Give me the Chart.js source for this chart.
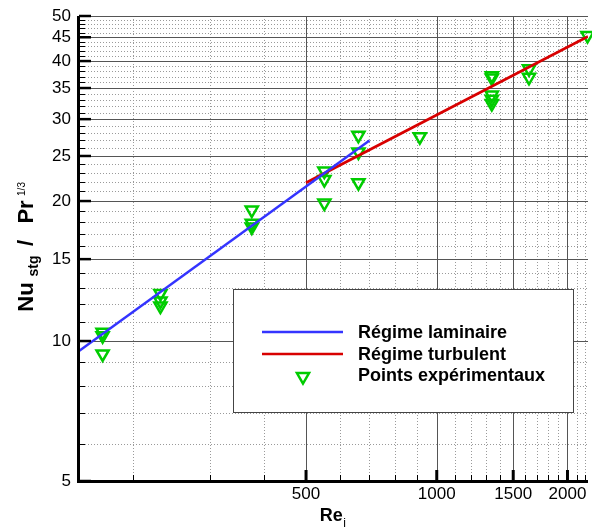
<!DOCTYPE html>
<html><head><meta charset="utf-8">
<script src="https://cdn.jsdelivr.net/npm/chart.js@4/dist/chart.umd.min.js"></script>
<style>html,body{margin:0;padding:0;background:#fff}#wrap{width:592px;height:528px}</style>
</head><body><div id="wrap"><canvas id="c" width="592" height="528"></canvas></div>
<script>
// ---- data ----
const legendLabels = ['Régime laminaire', 'Régime turbulent', 'Points expérimentaux'];
const laminarRe = [150, 700];
const laminarNu = [9.52, 27.0];
const turbulentRe = [500, 2230];
const turbulentNu = [21.9, 45.2];
const expRe = [170, 170, 170, 231, 231, 231, 375, 375, 375, 551, 551, 551, 660, 660, 660, 914, 1339, 1339, 1339, 1339, 1339, 1631, 1631, 2224];
const expNu = [10.44, 10.27, 9.38, 12.66, 12.19, 11.89, 19.13, 17.92, 17.59, 23.2, 22.25, 19.8, 27.7, 25.5, 21.9, 27.5, 37.2, 36.8, 33.8, 33.1, 32.4, 38.5, 36.9, 45.4];
const xTickLabels = [500, 1000, 1500, 2000];
const yTickLabels = [5, 10, 15, 20, 25, 30, 35, 40, 45, 50];
const xTickValues = []; for (let v = 200; v <= 2200; v += 100) xTickValues.push(v);
const yTickValues = []; for (let v = 5; v <= 50; v += 1) yTickValues.push(v);

const FONT = '"Liberation Sans", Arial, Helvetica, sans-serif';
const BLUE = '#3434ff', RED = '#d80000', GREEN = '#00cc00';
const TRI = {pointStyle: 'triangle', rotation: 180, radius: 7, borderWidth: 2.5};

const pts = (xs, ys) => xs.map((x, i) => ({x: x, y: ys[i]}));

const decor = {
  id: 'decor',
  beforeDatasetsDraw(chart) {
    const ctx = chart.ctx, ca = chart.chartArea, xs = chart.scales.x, ys = chart.scales.y;
    ctx.save();
    ctx.lineWidth = 1;
    ctx.strokeStyle = '#9a9a9a';
    ctx.setLineDash([1, 2]);
    ctx.beginPath();
    yTickValues.forEach(v => {
      if (yTickLabels.includes(v)) return;
      const y = Math.round(ys.getPixelForValue(v)) + 0.5;
      ctx.moveTo(ca.left, y); ctx.lineTo(ca.right, y);
    });
    xTickValues.forEach(v => {
      if (xTickLabels.includes(v)) return;
      const x = Math.round(xs.getPixelForValue(v)) + 0.5;
      ctx.moveTo(x, ca.top); ctx.lineTo(x, ca.bottom);
    });
    ctx.stroke();
    ctx.setLineDash([]);
    ctx.strokeStyle = '#555';
    ctx.beginPath();
    yTickLabels.forEach(v => {
      const y = Math.round(ys.getPixelForValue(v)) + 0.5;
      ctx.moveTo(ca.left, y); ctx.lineTo(ca.right, y);
    });
    xTickLabels.forEach(v => {
      const x = Math.round(xs.getPixelForValue(v)) + 0.5;
      ctx.moveTo(x, ca.top); ctx.lineTo(x, ca.bottom);
    });
    ctx.stroke();
    ctx.restore();
  },
  afterDatasetsDraw(chart) {
    const ctx = chart.ctx, ca = chart.chartArea, xs = chart.scales.x, ys = chart.scales.y;
    ctx.save();
    ctx.strokeStyle = '#000';
    yTickValues.forEach(v => {
      const major = yTickLabels.includes(v);
      const y = ys.getPixelForValue(v);
      ctx.lineWidth = major ? 2.5 : 1;
      const yy = major ? y : Math.round(y) + 0.5;
      ctx.beginPath(); ctx.moveTo(ca.left, yy); ctx.lineTo(ca.left + (major ? 12 : 6), yy); ctx.stroke();
    });
    xTickValues.forEach(v => {
      const major = xTickLabels.includes(v);
      const x = xs.getPixelForValue(v);
      ctx.lineWidth = major ? 3 : 1;
      const xx = major ? x : Math.round(x) + 0.5;
      ctx.beginPath(); ctx.moveTo(xx, ca.bottom); ctx.lineTo(xx, ca.bottom - (major ? 11 : 6)); ctx.stroke();
    });
    ctx.lineWidth = 3;
    ctx.beginPath();
    ctx.moveTo(ca.left - 0.5, ca.top); ctx.lineTo(ca.left - 0.5, ca.bottom + 1.5);
    ctx.moveTo(ca.left - 2, ca.bottom + 0.5); ctx.lineTo(ca.right, ca.bottom + 0.5);
    ctx.stroke();

    // legend box
    const lx = 233, ly = 289, lw = 341, lh = 124;
    ctx.fillStyle = '#fff';
    ctx.fillRect(lx, ly, lw, lh);
    ctx.lineWidth = 1; ctx.strokeStyle = '#444';
    ctx.strokeRect(lx + 0.5, ly + 0.5, lw - 1, lh - 1);
    const ds = chart.data.datasets;
    ctx.lineWidth = 2.5;
    ctx.strokeStyle = ds[0].borderColor;
    ctx.beginPath(); ctx.moveTo(262, 332); ctx.lineTo(343, 332); ctx.stroke();
    ctx.strokeStyle = ds[1].borderColor;
    ctx.beginPath(); ctx.moveTo(262, 354); ctx.lineTo(343, 354); ctx.stroke();
    ctx.strokeStyle = ds[2].borderColor;
    ctx.lineWidth = TRI.borderWidth;
    ctx.fillStyle = 'rgba(0,0,0,0)';
    Chart.helpers.drawPoint(ctx, TRI, 303, 376.5);
    ctx.fillStyle = '#000';
    ctx.font = 'bold 18px ' + FONT;
    ctx.textBaseline = 'alphabetic'; ctx.textAlign = 'left';
    ctx.fillText(ds[0].label, 358, 338);
    ctx.fillText(ds[1].label, 358, 360);
    ctx.fillText(ds[2].label, 358, 381);

    // x axis title: Re_i
    ctx.font = 'bold 18px ' + FONT;
    const wRe = ctx.measureText('Re').width;
    ctx.font = '12px ' + FONT;
    const wi = ctx.measureText('i').width;
    const cx = (ca.left + ca.right) / 2 - 1;
    const x0 = cx - (wRe + wi) / 2;
    ctx.font = 'bold 18px ' + FONT;
    ctx.fillText('Re', x0, 521);
    ctx.font = '12px ' + FONT;
    ctx.fillText('i', x0 + wRe + 0.5, 527);

    // y axis title: Nu_stg / Pr^1/3 (rotated)
    const parts = [
      {t: 'Nu', f: 'bold 22px ' + FONT, c: 297, b: 32.5},
      {t: 'stg', f: 'bold 14px ' + FONT, c: 266, b: 37.5},
      {t: '/', f: 'bold 22px ' + FONT, c: 243, b: 32.5},
      {t: 'Pr', f: 'bold 22px ' + FONT, c: 212, b: 32.5},
      {t: '1/3', f: '10px ' + FONT, c: 189, b: 25},
    ];
    parts.forEach(p => {
      ctx.save();
      ctx.translate(p.b, p.c);
      ctx.rotate(-Math.PI / 2);
      ctx.font = p.f;
      ctx.textAlign = 'center';
      ctx.textBaseline = 'alphabetic';
      ctx.fillText(p.t, 0, 0);
      ctx.restore();
    });
    ctx.restore();
  }
};

new Chart(document.getElementById('c'), {
  type: 'scatter',
  data: {
    datasets: [
      {label: legendLabels[0], data: pts(laminarRe, laminarNu), showLine: true, borderColor: BLUE, borderWidth: 2.5, pointRadius: 0, fill: false, order: 1},
      {label: legendLabels[1], data: pts(turbulentRe, turbulentNu), showLine: true, borderColor: RED, borderWidth: 2.8, pointRadius: 0, fill: false, order: 1},
      {label: legendLabels[2], data: pts(expRe, expNu), showLine: false, pointStyle: TRI.pointStyle, rotation: TRI.rotation,
       pointRadius: TRI.radius, borderWidth: TRI.borderWidth, borderColor: GREEN, backgroundColor: 'rgba(0,0,0,0)', clip: false, order: 2}
    ]
  },
  options: {
    responsive: false,
    animation: false,
    devicePixelRatio: 1,
    layout: {autoPadding: false, padding: {left: 0, top: 16, right: 4, bottom: 0}},
    plugins: {legend: {display: false}, tooltip: {enabled: false}, title: {display: false}},
    scales: {
      x: {
        type: 'logarithmic', min: 150, max: 2230,
        afterBuildTicks: s => { s.ticks = xTickValues.map(v => ({value: v})); },
        afterFit: s => { s.height = 47; s.paddingLeft = 0; s.paddingRight = 0; },
        grid: {display: false, drawTicks: false}, border: {display: false},
        ticks: {autoSkip: false, maxRotation: 0, minRotation: 0, padding: 3, color: '#000', font: {family: FONT, size: 17},
          callback: v => xTickLabels.includes(v) ? String(v) : ''}
      },
      y: {
        type: 'logarithmic', min: 5, max: 50,
        afterBuildTicks: s => { s.ticks = yTickValues.map(v => ({value: v})); },
        afterFit: s => { s.width = 79; s.paddingTop = 0; s.paddingBottom = 0; },
        grid: {display: false, drawTicks: false}, border: {display: false},
        ticks: {autoSkip: false, padding: 8, color: '#000', font: {family: FONT, size: 17},
          callback: v => yTickLabels.includes(v) ? String(v) : ''}
      }
    }
  },
  plugins: [decor]
});
</script>
</body></html>
